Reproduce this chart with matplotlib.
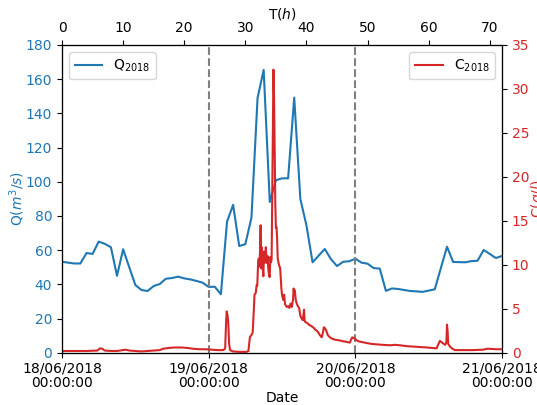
import matplotlib
matplotlib.use("Agg")
import matplotlib.pyplot as plt
from datetime import datetime, timedelta

# discharge Q (m3/s) vs hours since 18/06/2018 00:00
q_hours = [0, 2, 3, 4, 5, 6, 7, 8, 9, 10, 12, 13, 14, 15, 16, 17, 18, 19, 20, 21,
           22, 23, 24, 25, 26, 27, 28, 29, 30, 31, 32, 33, 34, 35, 36, 37, 38, 39,
           40, 41, 43, 44, 45, 46, 47, 48, 49, 50, 51, 52, 53, 54, 55, 57, 58, 59,
           61, 63, 64, 66, 67, 68, 69, 70, 71, 72]
q_vals = [53.2, 52.2, 52.2, 58.3, 57.8, 65.0, 63.7, 61.7, 45.0, 60.5, 39.6, 36.7,
          36.1, 39.0, 40.2, 43.3, 43.7, 44.5, 43.5, 42.9, 42.0, 41.0, 38.5, 38.6,
          34.2, 76.6, 86.5, 62.4, 63.5, 79.0, 149.0, 165.4, 88.2, 100.9, 102.0,
          102.0, 149.2, 89.9, 74.5, 52.9, 60.7, 54.8, 50.7, 53.2, 53.5, 55.0, 52.7,
          52.1, 49.5, 49.2, 36.2, 37.6, 37.3, 36.1, 35.9, 35.6, 37.1, 62.0, 53.1,
          52.9, 53.6, 53.8, 60.1, 57.8, 55.4, 56.6]

# concentration C (g/l)
c_hours = [0, 2, 4, 5.8, 6.2, 6.6, 7, 8, 9, 10, 10.4, 11, 12, 13, 14, 15, 16, 16.5,
           17.5, 18.5, 19.5, 20.5, 21.5, 22.5, 23.5, 24.5, 25.5, 26.4, 26.7, 26.85,
           26.95, 27.1, 27.2, 27.35, 27.5, 28, 29, 30.2, 30.5, 30.75, 31.0, 31.2,
           31.4, 31.5, 31.7, 31.85, 31.95, 32.1, 32.2, 32.3, 32.4, 32.5, 32.6, 32.7,
           32.8, 32.95, 33.05, 33.15, 33.25, 33.35, 33.45, 33.55, 33.65, 33.75,
           33.85, 33.98, 34.1, 34.2, 34.3, 34.4, 34.5, 34.6, 34.7, 34.8, 34.9, 35.0,
           35.1, 35.2, 35.3, 35.5, 35.7, 35.9, 36.0, 36.2, 36.35, 36.5, 36.6, 36.8,
           37.0, 37.2, 37.4, 37.6, 37.8, 37.9, 38.0, 38.1, 38.25, 38.4, 38.6, 38.8,
           39.0, 39.2, 39.4, 39.6, 39.7, 39.8, 40.1, 40.4, 40.85, 41.1, 41.4, 41.7,
           41.95, 42.2, 42.5, 42.7, 42.85, 43.0, 43.2, 43.5, 43.85, 44.2, 44.6,
           44.95, 45.5, 46.0, 46.5, 47.1, 47.3, 47.5, 47.7, 47.9, 48.2, 48.5, 49.2,
           49.9, 50.7, 51.5, 52.5, 53.7, 54.5, 55.3, 56.4, 57.5, 58.6, 59.7, 60.5,
           61.3, 61.6, 61.85, 62.1, 62.4, 62.7, 62.9, 63.0, 63.1, 63.2, 63.5, 63.8,
           64.3, 65.2, 66.2, 67.2, 68.0, 68.95, 69.5, 70.0, 71.0, 72.0]
c_vals = [0.2, 0.2, 0.2, 0.25, 0.5, 0.45, 0.25, 0.2, 0.2, 0.3, 0.35, 0.25, 0.2, 0.15,
          0.2, 0.25, 0.3, 0.45, 0.55, 0.6, 0.6, 0.55, 0.45, 0.4, 0.4, 0.35, 0.3, 0.3,
          0.5, 3.5, 4.7, 4.2, 3.5, 1.0, 0.3, 0.15, 0.1, 0.1, 0.2, 1.8, 2.0, 2.3, 5.0,
          6.6, 6.8, 7.7, 7.6, 10.4, 10.7, 9.8, 11.5, 14.5, 9.6, 12.0, 10.0, 8.7, 11.5,
          10.2, 10.4, 12.0, 10.8, 10.2, 11.0, 9.6, 9.0, 8.6, 10.9, 10.3, 10.6, 18.0,
          26.3, 32.2, 29.0, 22.5, 17.0, 14.2, 14.3, 13.0, 10.7, 10.0, 9.6, 7.3, 6.6,
          6.0, 6.6, 5.5, 5.4, 5.2, 5.3, 5.1, 5.6, 5.2, 6.0, 7.3, 6.8, 7.1, 6.0, 5.6,
          5.3, 5.1, 4.2, 3.9, 3.7, 4.9, 3.7, 3.5, 3.4, 3.2, 3.0, 2.9, 2.65, 2.5, 2.3,
          2.0, 1.75, 2.3, 2.9, 2.8, 2.6, 2.0, 1.75, 1.6, 1.5, 1.45, 1.4, 1.3, 1.25,
          1.15, 1.5, 1.75, 1.7, 1.6, 1.45, 1.3, 1.2, 1.1, 1.0, 0.95, 0.9, 0.85, 0.9,
          0.85, 0.75, 0.7, 0.65, 0.6, 0.55, 0.5, 1.0, 1.35, 1.2, 1.05, 0.9, 1.2, 3.2,
          2.5, 1.0, 0.7, 0.5, 0.3, 0.3, 0.3, 0.3, 0.32, 0.35, 0.45, 0.45, 0.4, 0.4]

start = datetime(2018, 6, 18)
date_ticks = [0, 24, 48, 72]
date_labels = [(start + timedelta(hours=h)).strftime("%d/%m/%Y\n%H:%M:%S") for h in date_ticks]

fig, ax = plt.subplots(figsize=(5.37, 4.05), dpi=100)
fig.subplots_adjust(left=0.1155, right=0.9348, bottom=0.129, top=0.889)

ax.plot(q_hours, q_vals, color="tab:blue", lw=1.5, label="Q$_{2018}$")
ax.axvline(24, color="gray", ls="--", lw=1.5)
ax.axvline(48, color="gray", ls="--", lw=1.5)
ax.set_xlim(0, 72)
ax.set_ylim(0, 180)
ax.set_xticks(date_ticks)
ax.set_xticklabels(date_labels, linespacing=1.1)
ax.tick_params(axis="x", pad=2.5)
ax.set_xlabel("Date", labelpad=0.5)
ax.set_ylabel("Q($m^3/s$)", color="tab:blue", labelpad=-1)
ax.tick_params(axis="y", labelcolor="tab:blue")
ax.legend(loc="upper left")

ax2 = ax.twinx()
ax2.plot(c_hours, c_vals, color="tab:red", lw=1.5, label="C$_{2018}$")
ax2.set_ylim(0, 35)
ax2.set_ylabel("C($g/l$)", color="tab:red", labelpad=0)
ax2.tick_params(axis="y", labelcolor="tab:red")
ax2.legend(loc="upper right")

ax3 = ax.twiny()
ax3.set_xlim(0, 72)
ax3.set_xticks(range(0, 71, 10))
ax3.set_xlabel("T($h$)", labelpad=2)

fig.savefig("out.png", dpi=100)
